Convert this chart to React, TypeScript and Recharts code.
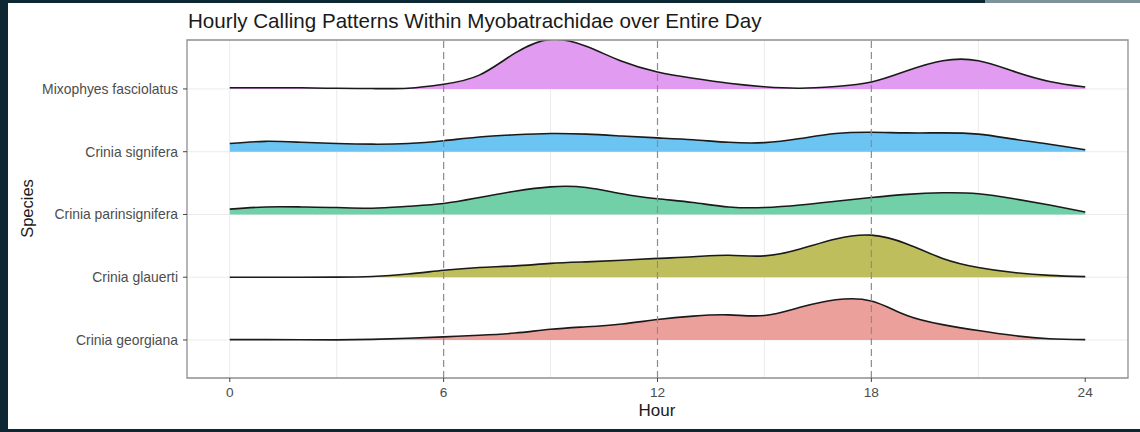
import { ComposedChart, Area, XAxis, YAxis, CartesianGrid, ReferenceLine, ReferenceArea } from "recharts";

// hour of day, 0..24
const hours = [0, 1, 2, 3, 4, 5, 6, 7, 8, 9, 10, 11, 12, 13, 14, 15, 16, 17, 18, 19, 20, 21, 22, 23, 24];

// bottom to top, same order as the ridges
const species = ["Crinia georgiana", "Crinia glauerti", "Crinia parinsignifera", "Crinia signifera", "Mixophyes fasciolatus"];

// scaled density per hour (ridge height, 1 = one row)
const georgiana = [0.005, 0.005, 0.003, 0.002, 0.01, 0.027, 0.05, 0.075, 0.11, 0.17, 0.21, 0.255, 0.325, 0.38, 0.4, 0.39, 0.52, 0.64, 0.62, 0.39, 0.245, 0.15, 0.07, 0.02, 0.005];
const glauerti = [0, 0, 0, 0.002, 0.012, 0.05, 0.11, 0.155, 0.18, 0.22, 0.245, 0.27, 0.3, 0.325, 0.35, 0.34, 0.45, 0.61, 0.67, 0.53, 0.3, 0.155, 0.075, 0.03, 0.01];
const parinsignifera = [0.085, 0.12, 0.12, 0.11, 0.1, 0.13, 0.175, 0.27, 0.37, 0.44, 0.43, 0.33, 0.25, 0.19, 0.12, 0.11, 0.15, 0.21, 0.27, 0.32, 0.345, 0.33, 0.25, 0.15, 0.04];
const signifera = [0.13, 0.165, 0.15, 0.13, 0.12, 0.13, 0.175, 0.235, 0.27, 0.29, 0.28, 0.25, 0.22, 0.19, 0.15, 0.145, 0.21, 0.29, 0.31, 0.3, 0.3, 0.28, 0.2, 0.12, 0.03];
const mixophyes = [0.02, 0.02, 0.018, 0.01, 0.006, 0.012, 0.075, 0.22, 0.57, 0.79, 0.68, 0.44, 0.27, 0.17, 0.09, 0.035, 0.012, 0.04, 0.11, 0.29, 0.45, 0.45, 0.28, 0.12, 0.03];

const densities = [georgiana, glauerti, parinsignifera, signifera, mixophyes];
const fills = ["#eba09b", "#bfbe5d", "#72d0a8", "#6cc4f2", "#e19bf1"];

const xTicks = [0, 6, 12, 18, 24];
const xMinor = [3, 9, 15, 21];
const dashedHours = [6, 12, 18];

const X_DOMAIN = [-1.2, 25.2];
const Y_DOMAIN = [0.394, 5.78];

// each ridge sits on its row number (1..5)
const chartData = hours.map((h, i) => {
    const row: Record<string, number> = { hour: h };
    densities.forEach((d, k) => {
        row[`s${k}`] = k + 1 + d[i];
    });
    return row;
});

const font = "'Liberation Sans', Arial, sans-serif";

export default function App() {
    return (
        <div style={{ position: "absolute", left: 0, top: 0, width: 1140, height: 432, background: "#0d2833", fontFamily: font }}>
            <div style={{ position: "absolute", left: 985, top: 0, width: 155, height: 3, background: "#7d9299" }} />
            <div style={{ position: "absolute", left: 8, top: 3, width: 1132, height: 426, background: "#ffffff" }} />

            <div style={{ position: "absolute", left: 0, top: 0 }}>
                <ComposedChart width={1140} height={432} data={chartData} margin={{ top: 40, right: 12, bottom: 24, left: 0 }}>
                    <CartesianGrid
                        stroke="#ebebeb"
                        verticalValues={[...xTicks, ...xMinor]}
                        horizontalValues={[1, 2, 3, 4, 5]}
                    />
                    <XAxis
                        dataKey="hour"
                        type="number"
                        domain={X_DOMAIN}
                        ticks={xTicks}
                        height={30}
                        axisLine={false}
                        tickSize={4}
                        tickMargin={5}
                        tickLine={{ stroke: "#444" }}
                        tick={{ fontSize: 13.7, fill: "#4d4d4d" }}
                        allowDataOverflow
                    />
                    <YAxis
                        type="number"
                        domain={Y_DOMAIN}
                        ticks={[1, 2, 3, 4, 5]}
                        width={187}
                        axisLine={false}
                        tickSize={4}
                        tickMargin={5}
                        tickLine={{ stroke: "#444" }}
                        tick={{ fontSize: 13.9, fill: "#4d4d4d" }}
                        tickFormatter={(v: number) => species[v - 1] ?? ""}
                        allowDataOverflow
                    />
                    {densities.map((_, k) => (
                        <Area
                            key={species[k]}
                            dataKey={`s${k}`}
                            type="natural"
                            baseValue={k + 1}
                            fill={fills[k]}
                            fillOpacity={1}
                            stroke="#1a1a1a"
                            strokeWidth={1.6}
                            dot={false}
                            activeDot={false}
                            isAnimationActive={false}
                        />
                    ))}
                    {dashedHours.map((h) => (
                        <ReferenceLine key={h} x={h} stroke="#8c8c8c" strokeWidth={1.2} strokeDasharray="7 4" />
                    ))}
                    <ReferenceArea
                        x1={X_DOMAIN[0]}
                        x2={X_DOMAIN[1]}
                        y1={Y_DOMAIN[0]}
                        y2={Y_DOMAIN[1]}
                        fill="none"
                        fillOpacity={0}
                        stroke="#8f8f8f"
                        strokeWidth={1.3}
                        ifOverflow="visible"
                    />
                </ComposedChart>
            </div>

            <svg width={1140} height={432} style={{ position: "absolute", left: 0, top: 0, pointerEvents: "none" }}>
                <text x={188} y={27.5} fontSize={20.6} fill="#1a1a1a">
                    Hourly Calling Patterns Within Myobatrachidae over Entire Day
                </text>
                <text x={657} y={415.5} fontSize={17} fill="#1a1a1a" textAnchor="middle">
                    Hour
                </text>
                <text transform="translate(32.5,208.5) rotate(-90)" fontSize={16.5} fill="#1a1a1a" textAnchor="middle">
                    Species
                </text>
            </svg>
        </div>
    );
}
